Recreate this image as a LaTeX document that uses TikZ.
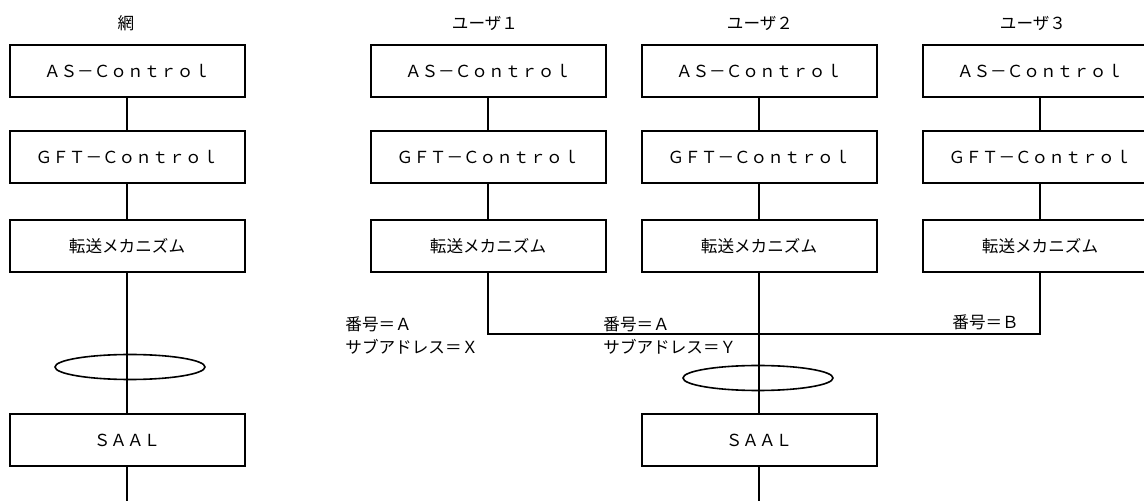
\documentclass[tikz,border=0pt]{standalone}
\usepackage{fontspec}
\setmainfont{Noto Sans CJK JP}
\usetikzlibrary{shapes.geometric}

\tikzset{
  layer/.style={draw, line width=1pt, minimum width=117.5pt, minimum height=26pt, inner sep=0pt},
  link/.style={line width=0.8pt},
  assoc/.style={draw, ellipse, line width=0.8pt, minimum width=75pt, minimum height=12.5pt, inner sep=0pt},
  tag/.style={inner sep=0pt, anchor=west}
}

\begin{document}
\begin{tikzpicture}[x=0.5pt, y=-0.5pt, font=\fontsize{8.3pt}{11pt}\selectfont]
\clip (0,0) rectangle (1144,501);

% 網
\node (net) at (126,23) {網};
\node[layer] (as0) at (127,71) {ＡＳ－Ｃｏｎｔｒｏｌ};
\node[layer] (gft0) at (127,157.5) {ＧＦＴ－Ｃｏｎｔｒｏｌ};
\node[layer] (tr0) at (127,246.5) {転送メカニズム};
\node[assoc] (ell0) at (130,367) {};
\node[layer] (saal0) at (127,440) {ＳＡＡＬ};
\coordinate (end0) at (127,501);

% ユーザ1
\node (usr1) at (485,23) {ユーザ１};
\node[layer] (as1) at (488,71) {ＡＳ－Ｃｏｎｔｒｏｌ};
\node[layer] (gft1) at (488,157.5) {ＧＦＴ－Ｃｏｎｔｒｏｌ};
\node[layer] (tr1) at (488,246.5) {転送メカニズム};

% ユーザ2
\node (usr2) at (760,23) {ユーザ２};
\node[layer] (as2) at (759,71) {ＡＳ－Ｃｏｎｔｒｏｌ};
\node[layer] (gft2) at (759,157.5) {ＧＦＴ－Ｃｏｎｔｒｏｌ};
\node[layer] (tr2) at (759,246.5) {転送メカニズム};
\node[assoc] (ell2) at (758,378) {};
\node[layer] (saal2) at (759,440) {ＳＡＡＬ};
\coordinate (end2) at (759,501);

% ユーザ3
\node (usr3) at (1033,23) {ユーザ３};
\node[layer] (as3) at (1040,71) {ＡＳ－Ｃｏｎｔｒｏｌ};
\node[layer] (gft3) at (1040,157.5) {ＧＦＴ－Ｃｏｎｔｒｏｌ};
\node[layer] (tr3) at (1040,246.5) {転送メカニズム};

% addresses
\node[tag] (numA1) at (345,324) {番号＝Ａ};
\node[tag] (subX) at (345,347) {サブアドレス＝Ｘ};
\node[tag] (numA2) at (603,324) {番号＝Ａ};
\node[tag] (subY) at (603,347) {サブアドレス＝Ｙ};
\node[tag] (numB) at (952,322) {番号＝Ｂ};

% lines
\foreach \c in {0,1,2,3} {
  \draw[link] (as\c) -- (gft\c);
  \draw[link] (gft\c) -- (tr\c);
}
\draw[link] (tr0) -- (saal0);
\draw[link] (saal0) -- (end0);
\draw[link] (tr2) -- (saal2);
\draw[link] (saal2) -- (end2);
\coordinate (bus) at (759,334);
\draw[link] (tr1.south) |- (bus) -| (tr3.south);

\end{tikzpicture}
\end{document}
